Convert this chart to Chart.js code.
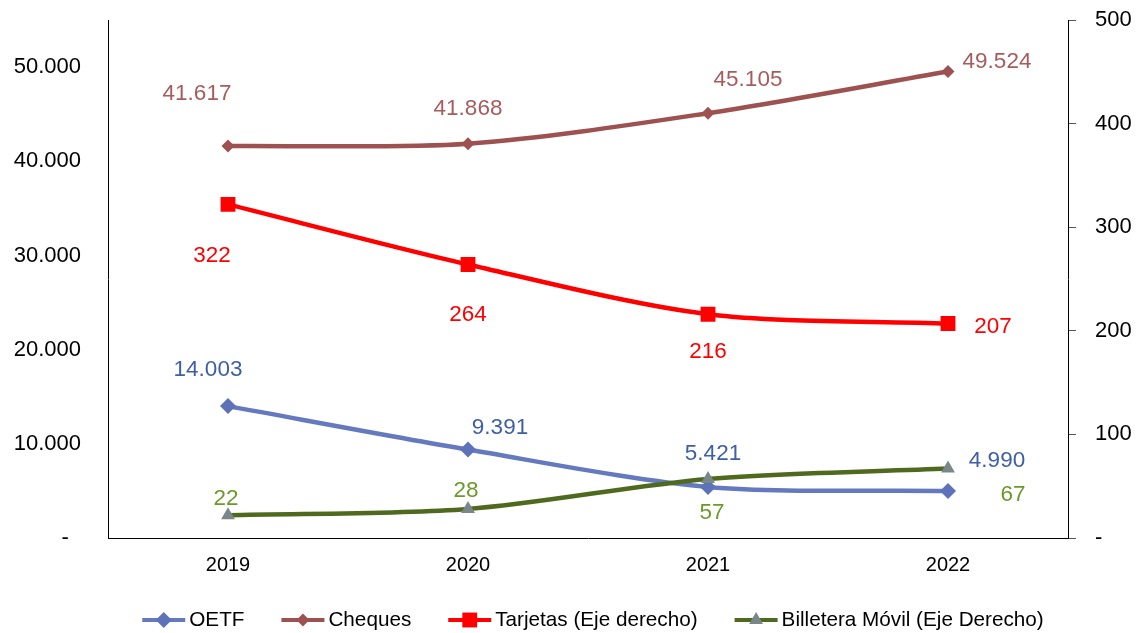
<!DOCTYPE html>
<html>
<head>
<meta charset="utf-8">
<script src="https://cdn.jsdelivr.net/npm/chart.js@4.4.1/dist/chart.umd.min.js"></script>
<style>
  html, body { margin: 0; padding: 0; background: #fff; }
  #wrap { width: 1139px; height: 633px; }
</style>
</head>
<body>
<div id="wrap"><canvas id="medios" width="1139" height="633"></canvas></div>
<script>
// datos
var years = ['2019', '2020', '2021', '2022'];
var oetf = [14003, 9391, 5421, 4990];
var cheques = [41617, 41868, 45105, 49524];
var tarjetas = [322, 264, 216, 207];
var billetera = [22, 28, 57, 67];
var leftTicks = [0, 10000, 20000, 30000, 40000, 50000];
var rightTicks = [0, 100, 200, 300, 400, 500];

Chart.defaults.font.family = '"Liberation Sans", Arial, sans-serif';
Chart.defaults.color = '#000';

function fmt(v) {
    return String(Math.round(v)).replace(/\B(?=(\d{3})+(?!\d))/g, '.');
}

// etiquetas de datos (no hay plugin datalabels)
var valueLabels = {
    id: 'valueLabels',
    afterDatasetsDraw: function (chart) {
        var ctx = chart.ctx;
        ctx.save();
        ctx.font = '22.5px "Liberation Sans", Arial, sans-serif';
        ctx.textAlign = 'center';
        ctx.textBaseline = 'middle';
        chart.data.datasets.forEach(function (ds, i) {
            var meta = chart.getDatasetMeta(i);
            ctx.fillStyle = ds.labelColor;
            meta.data.forEach(function (pt, j) {
                var off = ds.labelOffsets[j];
                ctx.fillText(fmt(ds.data[j]), pt.x + off[0], pt.y + off[1]);
            });
        });
        ctx.restore();
    }
};

function marker(ctx, style, x, y, r, color) {
    ctx.fillStyle = color;
    ctx.beginPath();
    if (style == 'rectRot') {
        ctx.moveTo(x - r, y); ctx.lineTo(x, y - r); ctx.lineTo(x + r, y); ctx.lineTo(x, y + r);
    } else if (style == 'rect') {
        var s = r * Math.SQRT1_2;
        ctx.rect(x - s, y - s, 2 * s, 2 * s);
    } else {
        var h = r * 0.866;
        ctx.moveTo(x, y - r); ctx.lineTo(x + h, y + r / 2); ctx.lineTo(x - h, y + r / 2);
    }
    ctx.closePath();
    ctx.fill();
}

// leyenda con línea y marcador, como en Excel
var lineLegend = {
    id: 'lineLegend',
    afterDraw: function (chart) {
        var ctx = chart.ctx;
        var icon = 43, gap = 4, spacing = 37, y = 620;
        ctx.save();
        ctx.font = '20.7px "Liberation Sans", Arial, sans-serif';
        ctx.textBaseline = 'middle';
        var total = 0;
        chart.data.datasets.forEach(function (ds, i) {
            total += icon + gap + ctx.measureText(ds.label).width + (i ? spacing : 0);
        });
        var x = 593 - total / 2;
        chart.data.datasets.forEach(function (ds) {
            ctx.strokeStyle = ds.borderColor;
            ctx.lineWidth = 4;
            ctx.beginPath();
            ctx.moveTo(x, y);
            ctx.lineTo(x + icon, y);
            ctx.stroke();
            marker(ctx, ds.pointStyle, x + icon / 2, y, ds.pointRadius, ds.pointBackgroundColor);
            ctx.fillStyle = '#000';
            ctx.fillText(ds.label, x + icon + gap, y);
            x += icon + gap + ctx.measureText(ds.label).width + spacing;
        });
        ctx.restore();
    }
};

function fitY(width) {
    return function (scale) {
        scale.width = width;
        scale.paddingTop = 20;
        scale.paddingBottom = 0;
    };
}

var ctx = document.getElementById('medios');
var myChart = new Chart(ctx, {
    type: 'line',
    data: {
        labels: years,
        datasets: [
            {
                label: 'OETF',
                data: oetf,
                yAxisID: 'y',
                borderColor: '#6479BE',
                pointBackgroundColor: '#5D72B8',
                pointBorderWidth: 0,
                pointStyle: 'rectRot',
                pointRadius: 8,
                labelColor: '#3E5FA3',
                labelOffsets: [[-20, -36], [32, -22], [5, -33], [49, -30]],
                order: 4
            },
            {
                label: 'Cheques',
                data: cheques,
                yAxisID: 'y',
                borderColor: '#9E5151',
                pointBackgroundColor: '#9E5151',
                pointBorderWidth: 0,
                pointStyle: 'rectRot',
                pointRadius: 6.5,
                labelColor: '#A65C5C',
                labelOffsets: [[-31, -52], [0, -35], [40, -33], [49, -10]],
                order: 3
            },
            {
                label: 'Tarjetas (Eje derecho)',
                data: tarjetas,
                yAxisID: 'y1',
                borderColor: '#FF0000',
                pointBackgroundColor: '#FF0000',
                pointBorderWidth: 0,
                pointStyle: 'rect',
                pointRadius: 10.5,
                labelColor: '#FF0000',
                labelOffsets: [[-16, 51], [0, 50], [0, 38], [45, 3]],
                order: 2
            },
            {
                label: 'Billetera Móvil (Eje Derecho)',
                data: billetera,
                yAxisID: 'y1',
                borderColor: '#4F6A1E',
                pointBackgroundColor: '#7A8789',
                pointBorderWidth: 0,
                pointStyle: 'triangle',
                pointRadius: 8,
                labelColor: '#6B9A2A',
                labelOffsets: [[-2, -16], [-2, -18], [4, 34], [65, 26]],
                order: 1
            }
        ]
    },
    options: {
        responsive: false,
        animation: false,
        elements: {
            line: { borderWidth: 4.5, tension: 0.3 },
            point: { hoverRadius: 9 }
        },
        layout: {
            padding: 0
        },
        plugins: {
            legend: { display: false },
            tooltip: { enabled: false }
        },
        scales: {
            x: {
                offset: true,
                grid: { display: false, drawTicks: false },
                border: { display: true, color: '#000', width: 1 },
                ticks: { padding: 15, font: { size: 20 } },
                afterFit: function (scale) { scale.height = 95; }
            },
            y: {
                position: 'left',
                min: 0,
                max: 55000,
                afterBuildTicks: function (scale) {
                    scale.ticks = leftTicks.map(function (v) { return { value: v }; });
                },
                grid: { display: false, drawTicks: false },
                border: { display: true, color: '#000', width: 1 },
                ticks: {
                    padding: 27,
                    font: { size: 22 },
                    callback: function (v) { return v === 0 ? '-  ' : fmt(v); }
                },
                afterFit: fitY(108)
            },
            y1: {
                position: 'right',
                min: 0,
                max: 500,
                afterBuildTicks: function (scale) {
                    scale.ticks = rightTicks.map(function (v) { return { value: v }; });
                },
                grid: { drawOnChartArea: false, drawTicks: true, tickLength: 8, color: '#555', tickColor: '#555' },
                border: { display: true, color: '#000', width: 1 },
                ticks: {
                    padding: 19,
                    font: { size: 22 },
                    callback: function (v) { return v === 0 ? '-' : v; }
                },
                afterFit: fitY(71)
            }
        }
    },
    plugins: [valueLabels, lineLegend]
});
</script>
</body>
</html>
